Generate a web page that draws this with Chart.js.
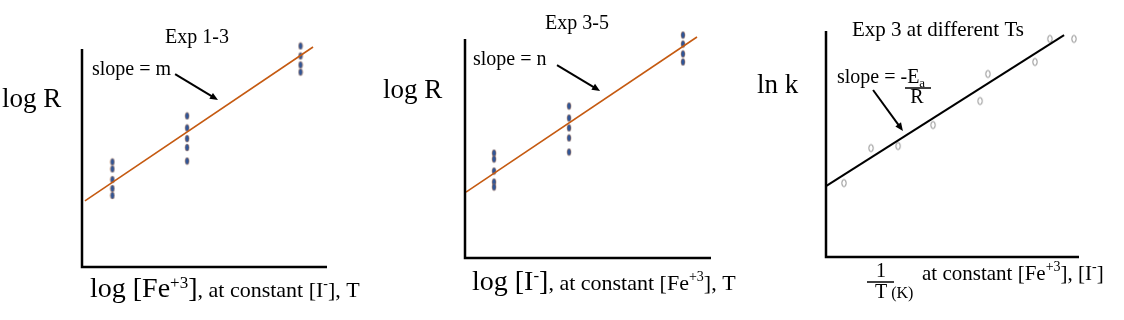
<!DOCTYPE html>
<html>
<head>
<meta charset="utf-8">
<script src="https://cdn.jsdelivr.net/npm/chart.js@4"></script>
<style>
  body { margin: 0; background: #fff; }
  .panel { position: absolute; top: 0; height: 320px; }
</style>
</head>
<body>
<div class="panel" style="left:0px"><canvas id="c1" width="370" height="320"></canvas></div>
<div class="panel" style="left:370px"><canvas id="c2" width="374" height="320"></canvas></div>
<div class="panel" style="left:744px"><canvas id="c3" width="380" height="320"></canvas></div>
<script>
// Exp 1-3 : log R vs log [Fe+3]
const feX = [1.24, 4.29, 8.92];
const feLogR = [
  [4.82, 4.50, 4.01, 3.60, 3.28],
  [6.93, 6.38, 5.89, 5.48, 4.86],
  [10.39, 10.14, 9.68, 9.27, 8.94]
];
const feFitX = [0.12, 9.43];
const feFitY = [3.03, 10.09];

// Exp 3-5 : log R vs log [I-]
const iX = [1.18, 4.23, 8.86];
const iLogR = [
  [4.79, 4.52, 3.97, 3.47, 3.24],
  [6.94, 6.39, 5.94, 5.48, 4.84],
  [10.41, 10.18, 9.77, 9.32, 8.95]
];
const iFitX = [0.04, 9.43];
const iFitY = [3.01, 10.09];

// Exp 3 at different Ts : ln k vs 1/T
const invT = [0.71, 1.78, 2.85, 4.23, 6.09, 6.40, 8.26, 8.85, 9.80];
const lnK = [3.27, 4.82, 4.91, 5.84, 6.90, 8.10, 8.63, 9.65, 9.65];
const tFitX = [0, 9.41];
const tFitY = [3.14, 9.82];

const SERIF = '"Liberation Serif", "Times New Roman", serif';
const ORANGE = "#c55a11";

// little vertical blue ellipse used for the log R points
function blueDot() {
  const c = document.createElement("canvas");
  c.width = 6; c.height = 9;
  const g = c.getContext("2d");
  g.beginPath();
  g.ellipse(3, 4.5, 2, 3.5, 0, 0, Math.PI * 2);
  g.fillStyle = "#2f5597";
  g.fill();
  g.lineWidth = 0.5;
  g.strokeStyle = "#b8774a";
  g.stroke();
  return c;
}
// hollow grey "0" used for the ln k points
function hollowDot() {
  const c = document.createElement("canvas");
  c.width = 8; c.height = 11;
  const g = c.getContext("2d");
  g.beginPath();
  g.ellipse(4, 5.5, 2.2, 3.6, 0, 0, Math.PI * 2);
  g.lineWidth = 1;
  g.strokeStyle = "#8c8c8c";
  g.stroke();
  return c;
}

function columns(xs, ys) {
  const pts = [];
  xs.forEach((x, i) => ys[i].forEach((y) => pts.push({ x: x, y: y })));
  return pts;
}
function pairs(xs, ys) {
  return xs.map((x, i) => ({ x: x, y: ys[i] }));
}

// text runs: [text, size, dy]
function drawRich(ctx, x, y, runs, align) {
  let w = 0;
  runs.forEach((r) => {
    ctx.font = r[1] + "px " + SERIF;
    w += ctx.measureText(r[0]).width;
  });
  let cx = align === "center" ? x - w / 2 : x;
  runs.forEach((r) => {
    ctx.font = r[1] + "px " + SERIF;
    ctx.fillText(r[0], cx, y + (r[2] || 0));
    cx += ctx.measureText(r[0]).width;
  });
}

function decor(spec) {
  return {
    id: "decor",
    afterDatasetsDraw(chart) {
      const ctx = chart.ctx;
      const a = chart.chartArea;
      const sx = chart.scales.x, sy = chart.scales.y;
      ctx.save();
      ctx.strokeStyle = "#000";
      ctx.fillStyle = "#000";
      ctx.lineWidth = 2.5;
      ctx.beginPath();
      ctx.moveTo(a.left, a.top);
      ctx.lineTo(a.left, a.bottom);
      ctx.lineTo(a.right, a.bottom);
      ctx.stroke();

      // arrow pointing at the fitted line
      const x0 = sx.getPixelForValue(spec.arrow[0]), y0 = sy.getPixelForValue(spec.arrow[1]);
      const x1 = sx.getPixelForValue(spec.arrow[2]), y1 = sy.getPixelForValue(spec.arrow[3]);
      const ang = Math.atan2(y1 - y0, x1 - x0);
      ctx.lineWidth = 2;
      ctx.beginPath();
      ctx.moveTo(x0, y0);
      ctx.lineTo(x1 - 6 * Math.cos(ang), y1 - 6 * Math.sin(ang));
      ctx.stroke();
      ctx.beginPath();
      ctx.moveTo(x1, y1);
      ctx.lineTo(x1 - 8 * Math.cos(ang) + 3.5 * Math.sin(ang), y1 - 8 * Math.sin(ang) - 3.5 * Math.cos(ang));
      ctx.lineTo(x1 - 8 * Math.cos(ang) - 3.5 * Math.sin(ang), y1 - 8 * Math.sin(ang) + 3.5 * Math.cos(ang));
      ctx.closePath();
      ctx.fill();

      ctx.textBaseline = "alphabetic";
      spec.texts.forEach((t) => drawRich(ctx, t.x, t.y, t.runs, t.align));
      ctx.lineWidth = 1.5;
      (spec.rules || []).forEach((r) => {
        ctx.beginPath();
        ctx.moveTo(r[0], r[2]);
        ctx.lineTo(r[1], r[2]);
        ctx.stroke();
      });
      ctx.restore();
    }
  };
}

function makeChart(id, points, pointStyle, fit, fitColor, fitWidth, padding, spec) {
  return new Chart(document.getElementById(id), {
    type: "scatter",
    data: {
      datasets: [
        {
          data: fit,
          showLine: true,
          borderColor: fitColor,
          borderWidth: fitWidth,
          pointRadius: 0,
          clip: false
        },
        {
          data: points,
          pointStyle: pointStyle,
          pointRadius: 4,
          clip: false
        }
      ]
    },
    options: {
      responsive: false,
      animation: false,
      layout: { padding: padding },
      scales: {
        x: { type: "linear", min: 0, max: 10, display: false },
        y: { type: "linear", min: 0, max: 10, display: false }
      },
      plugins: { legend: { display: false }, tooltip: { enabled: false } }
    },
    plugins: [decor(spec)]
  });
}

makeChart("c1", columns(feX, feLogR), blueDot(), pairs(feFitX, feFitY), ORANGE, 1.6,
  { left: 82, top: 49, right: 43, bottom: 53 },
  {
    arrow: [3.80, 8.85, 5.55, 7.66],
    texts: [
      { x: 197, y: 43, align: "center", runs: [["Exp 1-3", 20]] },
      { x: 92, y: 75, runs: [["slope = m", 20]] },
      { x: 2, y: 107, runs: [["log R", 27]] },
      { x: 90, y: 297, runs: [["log [Fe", 28], ["+3", 17, -9], ["]", 28], [", at constant [I", 22], ["-", 14, -9], ["], T", 22]] }
    ]
  });

makeChart("c2", columns(iX, iLogR), blueDot(), pairs(iFitX, iFitY), ORANGE, 1.6,
  { left: 95, top: 39, right: 33, bottom: 62 },
  {
    arrow: [3.74, 8.81, 5.49, 7.63],
    texts: [
      { x: 207, y: 29, align: "center", runs: [["Exp 3-5", 20]] },
      { x: 103, y: 65, runs: [["slope = n", 20]] },
      { x: 13, y: 98, runs: [["log R", 27]] },
      { x: 102, y: 290, runs: [["log [I", 28], ["-", 17, -9], ["]", 28], [", at constant [Fe", 22], ["+3", 14, -9], ["], T", 22]] }
    ]
  });

makeChart("c3", pairs(invT, lnK), hollowDot(), pairs(tFitX, tFitY), "#000", 2,
  { left: 82, top: 31, right: 45, bottom: 63 },
  {
    arrow: [1.86, 7.39, 3.04, 5.58],
    texts: [
      { x: 194, y: 36, align: "center", runs: [["Exp 3 at different Ts", 21]] },
      { x: 93, y: 83, runs: [["slope = ", 20], ["-E", 20], ["a", 13, 4]] },
      { x: 173, y: 103, align: "center", runs: [["R", 20]] },
      { x: 13, y: 93, runs: [["ln k", 27]] },
      { x: 137, y: 277, align: "center", runs: [["1", 20]] },
      { x: 131, y: 298, runs: [["T", 20], [" (K)", 16]] },
      { x: 178, y: 280, runs: [["at constant [Fe", 21], ["+3", 14, -9], ["], [I", 21], ["-", 14, -9], ["]", 21]] }
    ],
    rules: [[161, 187, 88], [123, 150, 282]]
  });
</script>
</body>
</html>
